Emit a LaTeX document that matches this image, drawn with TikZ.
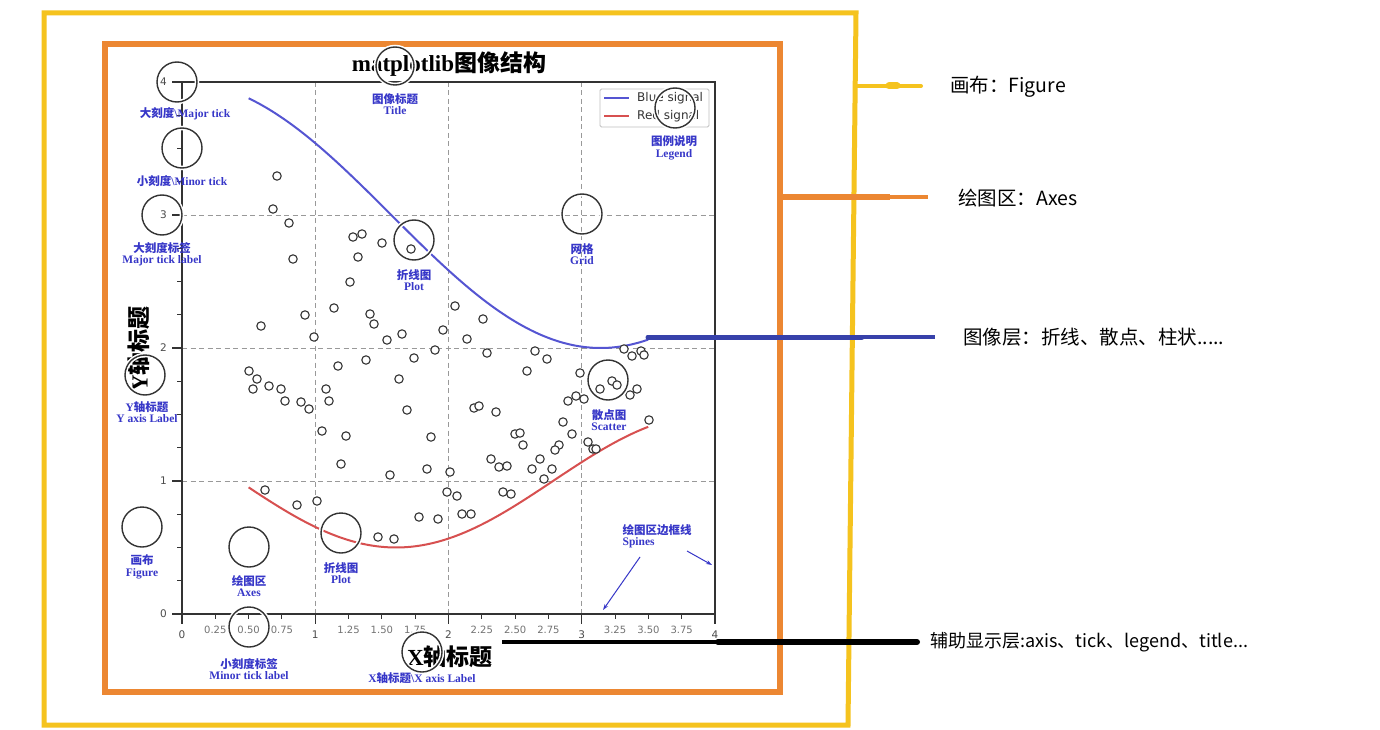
\documentclass[tikz,border=0pt]{standalone}
\usepackage{fontspec}
\setmainfont{Liberation Serif}
\newfontfamily\cjk{Noto Sans CJK SC}
\newfontfamily\dvs{DejaVu Sans}
\usetikzlibrary{arrows.meta}
\definecolor{figyellow}{RGB}{245,195,30}
\definecolor{axorange}{RGB}{236,135,50}
\definecolor{annblue}{RGB}{55,55,200}
\definecolor{sigblue}{RGB}{85,85,210}
\definecolor{sigred}{RGB}{215,80,80}
\definecolor{layerblue}{RGB}{55,65,170}
\newcommand{\setfs}[1]{\fontsize{#1}{#1}\selectfont}
\newcommand{\cn}[1]{{\cjk\bfseries #1}}
\tikzset{
  gridl/.style={black!40, line width=0.9pt, dash pattern=on 5pt off 3.5pt},
  spine/.style={black!80, line width=1.2pt},
  tickl/.style={black!80, line width=1.1pt},
  majlbl/.style={text=black!70, font=\dvs\setfs{10.5}, inner sep=0},
  minlbl/.style={text=black!55, font=\dvs\setfs{10}, inner sep=0},
  scat/.style={black!80, line width=1.1pt, fill=white},
  anncircle/.style={circle, minimum size=40pt, inner sep=0, draw=black!80, line width=1.4pt,
                    preaction={draw=white, line width=4.5pt}},
  annlbl/.style={text=annblue, font=\bfseries\setfs{11.5}, align=center, inner sep=0.5pt},
  bigtitle/.style={font=\bfseries\setfs{23}, inner sep=0},
  layerlbl/.style={font=\cjk\setfs{19.5}, anchor=west, inner sep=0},
  spinearrow/.style={annblue, line width=1pt, -{Stealth[length=6pt,width=4pt]}},
}
\begin{document}
\begin{tikzpicture}[x=1pt, y=-1pt]
\useasboundingbox (0,0) rectangle (1380,730);
\fill[white] (0,0) rectangle (1380,730);

% Figure and Axes frames
\draw[figyellow, line width=5pt, line join=miter] (44,13) -- (856,13) -- (848,725) -- (44,725) -- cycle;
\draw[axorange, line width=6pt] (105,44) rectangle (780,692);

% grid
\foreach \v in {1,2,3} {
  \draw[gridl] ({182+133.25*\v},82) -- ({182+133.25*\v},614);
  \draw[gridl] (182,{614-133*\v}) -- (715,{614-133*\v});
}

% curves
\draw[sigblue, line width=2pt, domain=0.5:3.5, samples=100, smooth]
  plot ({182+133.25*\x},{614-133*(3+cos(\x r))});
\draw[sigred, line width=2pt, domain=0.5:3.5, samples=100, smooth]
  plot ({182+133.25*\x},{614-133*(1+0.5*cos((1+\x/0.75) r))});

% scatter
\foreach \a/\b in {277/176,273/209,289/223,293/259,353/237,362/234,382/243,358/257,411/249,350/282,
  455/306,334/308,305/315,370/314,374/324,261/326,402/334,443/330,314/337,387/340,467/339,366/360,
  338/366,435/350,414/358,249/371,257/379,253/389,269/386,281/389,285/401,301/402,309/409,326/389,
  329/401,399/379,407/410,322/431,346/436,431/437,341/464,390/475,427/469,450/472,265/490,297/505,
  317/501,419/517,438/519,447/492,457/496,378/537,394/539,462/514,471/514,483/319,487/353,535/351,
  547/359,527/371,580/373,624/349,632/356,641/351,644/355,600/389,612/381,617/385,637/389,630/395,
  568/401,576/396,584/399,474/408,479/406,496/412,563/422,572/434,515/434,520/433,523/445,588/442,
  593/449,596/449,649/420,559/445,555/450,491/459,540/459,499/467,507/466,532/469,552/469,544/479,
  503/492,511/494}
  \draw[scat] (\a,\b) circle[radius=4.2pt];

% spines
\draw[spine] (182,82) rectangle (715,614);

% x ticks
\foreach \v/\t [count=\k] in {0/0,1/1,2/2,3/3,4/4} {
  \draw[tickl] ({182+133.25*\v},614) -- ++(0,10);
  \node[majlbl] (xmaj\k) at ({182+133.25*\v},635) {\t};
}
\foreach \v/\t [count=\k] in {0.25/0.25,0.5/0.50,0.75/0.75,1.25/1.25,1.5/1.50,1.75/1.75,
  2.25/2.25,2.5/2.50,2.75/2.75,3.25/3.25,3.5/3.50,3.75/3.75} {
  \draw[tickl] ({182+133.25*\v},614) -- ++(0,5);
  \node[minlbl] (xmin\k) at ({182+133.25*\v},629.5) {\t};
}
% y ticks
\foreach \v [count=\k] in {0,1,2,3,4} {
  \draw[tickl] (182,{614-133*\v}) -- ++(-10,0);
  \node[majlbl, anchor=east] (ymaj\k) at (167,{614-133*\v}) {\v};
}
\foreach \v in {0.25,0.5,0.75,1.25,1.5,1.75,2.25,2.5,2.75,3.25,3.5,3.75}
  \draw[tickl] (182,{614-133*\v}) -- ++(-5,0);

% legend
\draw[black!25, fill=white, rounded corners=1.5pt, line width=0.8pt] (600,89) rectangle (709,127);
\draw[sigblue, line width=2pt] (604,98) -- (629,98);
\draw[sigred, line width=2pt] (604,116) -- (629,116);
\node[font=\dvs\setfs{12}, anchor=west, inner sep=0, text=black!80] (lgb) at (637,98) {Blue signal};
\node[font=\dvs\setfs{12}, anchor=west, inner sep=0, text=black!80] (lgr) at (637,116) {Red signal};

% titles
\node[bigtitle] (title) at (449,64) {matplotlib\cn{图像结构}};
\node[bigtitle, rotate=90] (ytitle) at (139,349) {Y\cn{轴标题}};
\node[bigtitle] (xtitle) at (450,657) {X\cn{轴标题}};

% annotation circles
\node[anncircle] (c1) at (177,82) {};
\node[anncircle] (c2) at (182,148) {};
\node[anncircle] (c3) at (162,215) {};
\node[anncircle, minimum size=38pt] (c4) at (395,66) {};
\node[anncircle] (c5) at (414,240) {};
\node[anncircle] (c6) at (582,214) {};
\node[anncircle] (c7) at (675,108) {};
\node[anncircle] (c8) at (145,375) {};
\node[anncircle] (c9) at (608,380) {};
\node[anncircle] (c10) at (142,527) {};
\node[anncircle] (c11) at (249,547) {};
\node[anncircle] (c12) at (341,533) {};
\node[anncircle] (c13) at (249,627) {};
\node[anncircle] (c14) at (422,652) {};

% annotation labels
\node[annlbl] (l1) at (185,114) {\cn{大刻度}\textbackslash Major tick};
\node[annlbl] (l2) at (182,181) {\cn{小刻度}\textbackslash Minor tick};
\node[annlbl] (l3) at (162,254) {\cn{大刻度标签}\\Major tick label};
\node[annlbl] (l4) at (395,104) {\cn{图像标题}\\Title};
\node[annlbl] (l5) at (414,280) {\cn{折线图}\\Plot};
\node[annlbl] (l6) at (582,254) {\cn{网格}\\Grid};
\node[annlbl] (l7) at (674,148) {\cn{图例说明}\\Legend};
\node[annlbl] (l8) at (147,412) {Y\cn{轴标题}\\Y axis Label};
\node[annlbl] (l9) at (609,420) {\cn{散点图}\\Scatter};
\node[annlbl] (l10) at (142,567) {\cn{画布}\\Figure};
\node[annlbl] (l11) at (249,586) {\cn{绘图区}\\Axes};
\node[annlbl] (l12) at (341,573) {\cn{折线图}\\Plot};
\node[annlbl] (l13) at (249,669) {\cn{小刻度标签}\\Minor tick label};
\node[annlbl] (l14) at (422,678) {X\cn{轴标题}\textbackslash X axis Label};
\node[annlbl, align=left, anchor=west] (l15) at (622,536) {\cn{绘图区边框线}\\Spines};

% spines arrows
\coordinate (sp1s) at (640,557);
\coordinate (sp1e) at (603,610);
\coordinate (sp2s) at (687,551);
\coordinate (sp2e) at (712,565);
\draw[spinearrow] (sp1s) -- (sp1e);
\draw[spinearrow] (sp2s) -- (sp2e);

% layer connectors
\coordinate (figA) at (857,86);
\coordinate (figB) at (921,86);
\draw[figyellow, line width=4pt, line cap=round] (figA) -- (figB);
\draw[figyellow, line width=7pt, line cap=round] (889,86) -- (897,86);
\coordinate (axA) at (780,197);
\coordinate (axM) at (890,197);
\coordinate (axB) at (928,197);
\draw[axorange, line width=6pt] (axA) -- (axM);
\draw[axorange, line width=4pt] (axM) -- (axB);
\coordinate (imA) at (648,337);
\coordinate (imM) at (862,337);
\coordinate (imB) at (935,337);
\draw[layerblue, line width=5pt, line cap=round] (imA) -- (imM);
\draw[layerblue, line width=3.5pt] (imM) -- (imB);
\coordinate (auA) at (502,642);
\coordinate (auM) at (718,642);
\coordinate (auB) at (917,642);
\draw[black, line width=4.5pt] (auA) -- (auM);
\draw[black, line width=6pt, line cap=round] (auM) -- (auB);

% layer labels
\node[layerlbl] (figlbl) at (950,87) {画布：Figure};
\node[layerlbl] (axlbl) at (958,198) {绘图区：Axes};
\node[layerlbl] (imlbl) at (963,337) {图像层：折线、散点、柱状.....};
\node[layerlbl, font=\cjk\setfs{18}] (aulbl) at (930,642) {辅助显示层:axis、tick、legend、title...};
\end{tikzpicture}
\end{document}
